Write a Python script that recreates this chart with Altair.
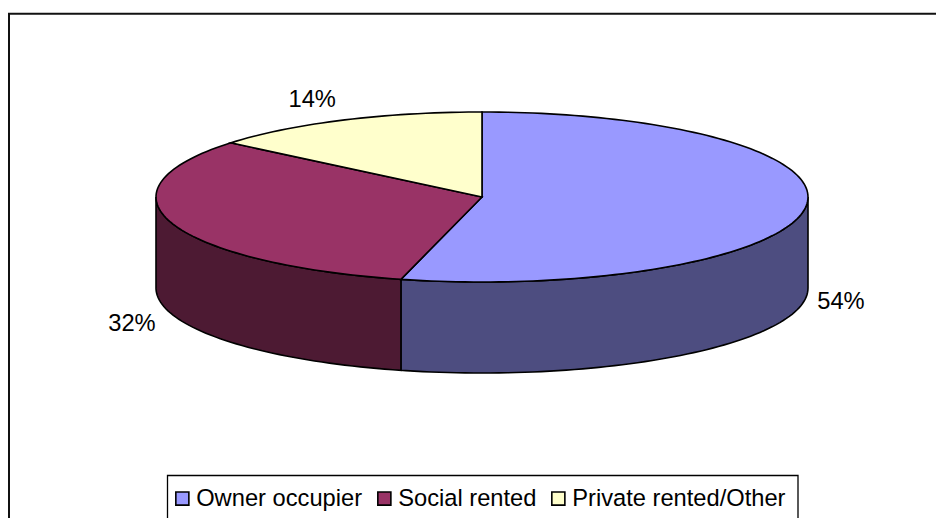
import numpy as np
import pandas as pd
import altair as alt

categories = ["Owner occupier", "Social rented", "Private rented/Other"]
shares = [54, 32, 14]
top_colors = ["#9999FF", "#993366", "#FFFFCC"]
side_colors = ["#4D4D80", "#4D1A33", "#80806A"]
labels = ["54%", "32%", "14%"]

W, H = 928, 510
RX, RY, DEPTH = 326, 85, 91
FONT = "Liberation Sans"
x_scale = alt.Scale(domain=[-474, 454], range=[0, W], nice=False, zero=False)
y_scale = alt.Scale(domain=[-321, 189], range=[H, 0], nice=False, zero=False)


def ex(t):
    return RX * np.sin(np.radians(t))


def ey(t):
    return RY * np.cos(np.radians(t))


edges = np.cumsum([0] + shares) * 3.6
top_rows, side_layers = [], []
for i, cat in enumerate(categories):
    a, b = edges[i], edges[i + 1]
    ts = np.arange(a, b, 1.5).tolist() + [b]
    top_rows.append(dict(cat=cat, i=0, x=0.0, y=0.0))
    for k, t in enumerate(ts):
        top_rows.append(dict(cat=cat, i=k + 1, x=ex(t), y=ey(t)))
    lo, hi = max(a, 90), min(b, 270)
    if hi > lo:
        ws = np.arange(lo, hi, 1.5).tolist() + [hi]
        pts = [(ex(t), ey(t)) for t in ws] + [(ex(t), ey(t) - DEPTH) for t in reversed(ws)]
        df = pd.DataFrame(pts, columns=["x", "y"]).assign(i=range(len(pts)))
        side_layers.append(
            alt.Chart(df)
            .mark_line(interpolate="linear-closed", fill=side_colors[i], stroke="black", strokeWidth=1.6)
            .encode(
                x=alt.X("x:Q", scale=x_scale, axis=None),
                y=alt.Y("y:Q", scale=y_scale, axis=None),
                order="i:Q",
            )
        )

top = (
    alt.Chart(pd.DataFrame(top_rows))
    .mark_line(interpolate="linear-closed", stroke="black", strokeWidth=1.6)
    .encode(
        x=alt.X("x:Q", scale=x_scale, axis=None),
        y=alt.Y("y:Q", scale=y_scale, axis=None),
        order="i:Q",
        fill=alt.Fill(
            "cat:N",
            scale=alt.Scale(domain=categories, range=top_colors),
            legend=alt.Legend(
                title=None,
                orient="none",
                legendX=162.5,
                legendY=478.5,
                direction="horizontal",
                columns=3,
                symbolType="square",
                symbolSize=170,
                symbolStrokeColor="black",
                symbolStrokeWidth=1.6,
                labelFont=FONT,
                labelFontSize=23.7,
                labelColor="black",
                labelOffset=2,
                columnPadding=10,
                padding=0,
                labelLimit=400,
                zindex=1,
            ),
        ),
    )
)

offsets = [(35.5, 94), (-40, 101), (-31, -20.5)]
label_layers = []
for i, lab in enumerate(labels):
    mid = (edges[i] + edges[i + 1]) / 2
    df = pd.DataFrame({"x": [ex(mid)], "y": [ey(mid)], "t": [lab]})
    label_layers.append(
        alt.Chart(df)
        .mark_text(font=FONT, fontSize=23.7, color="black", dx=offsets[i][0], dy=offsets[i][1])
        .encode(
            x=alt.X("x:Q", scale=x_scale, axis=None),
            y=alt.Y("y:Q", scale=y_scale, axis=None),
            text="t:N",
        )
    )

one = pd.DataFrame({"a": [0]})
frame_left = alt.Chart(one).mark_rule(color="#111111", strokeWidth=2).encode(
    x=alt.value(1), y=alt.value(5), y2=alt.value(H)
)
frame_top = alt.Chart(one).mark_rule(color="#111111", strokeWidth=2).encode(
    x=alt.value(0), x2=alt.value(W), y=alt.value(5.7)
)
legend_box = alt.Chart(one).mark_rect(fillOpacity=0, stroke="black", strokeWidth=1.3).encode(
    x=alt.value(159.5), x2=alt.value(790), y=alt.value(467.5), y2=alt.value(540)
)

chart = alt.layer(frame_left, frame_top, legend_box, *side_layers, top, *label_layers).properties(
    width=W,
    height=H,
    padding=0,
    autosize=alt.AutoSizeParams(type="none"),
    background="white",
).configure_view(stroke=None)

chart.save("out.html", embed_options={"renderer": "svg", "actions": False})
